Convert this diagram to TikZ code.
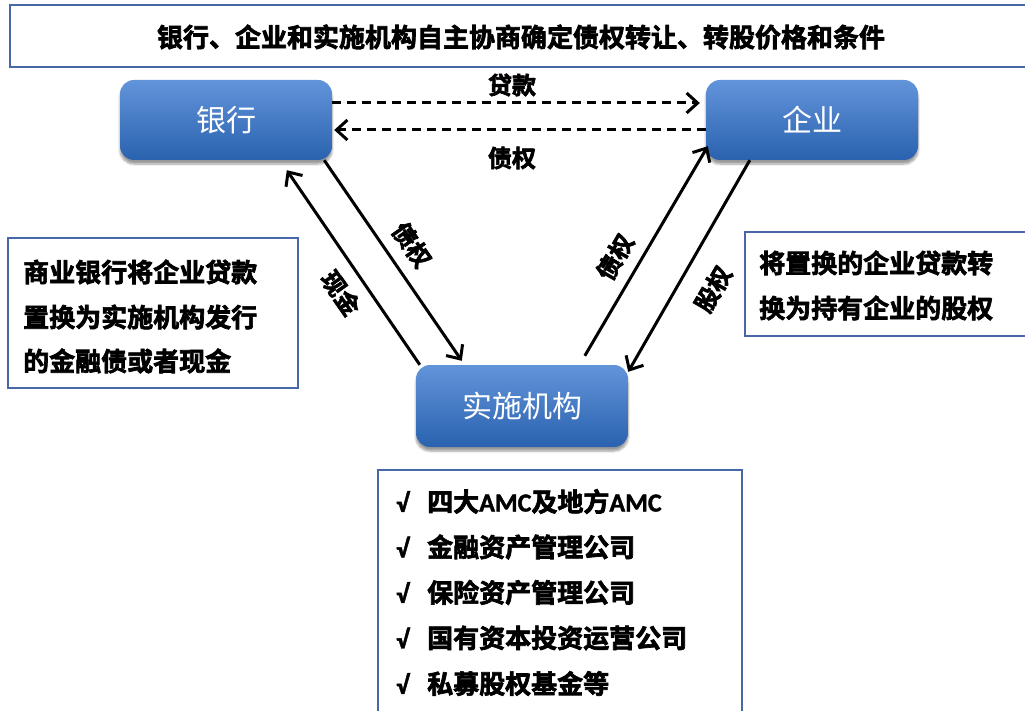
\documentclass[tikz,border=0pt]{standalone}
\usepackage{fontspec}
\setmainfont{Noto Sans CJK SC}
\newfontfamily\bcjk{Noto Sans CJK SC Bold}[FakeBold=2.6]
\newfontfamily\lat{Carlito}[BoldFeatures={FakeBold=1.5}]
\usetikzlibrary{arrows.meta,shadows.blur}
\definecolor{boxline}{RGB}{70,105,165}
\definecolor{btop}{RGB}{98,148,218}
\definecolor{bbot}{RGB}{42,98,175}
\tikzset{
  infobox/.style={draw=boxline,line width=1.4pt,fill=white},
  bluenode/.style={rounded corners=14pt,minimum width=212pt,minimum height=80pt,
    top color=btop,bottom color=bbot,draw=none,text=white,
    font=\fontsize{30pt}{34pt}\selectfont,
    blur shadow={shadow xshift=0pt,shadow yshift=-4pt,shadow blur steps=6,shadow opacity=40}},
  arr/.style={line width=3pt,-{Straight Barb[length=11pt,width=20pt,line width=3pt]}},
  darr/.style={arr,dash pattern=on 9pt off 6pt},
  lbl/.style={font=\bcjk\fontsize{24pt}{28pt}\selectfont,inner sep=0pt},
  txt/.style={font=\bcjk\fontsize{26pt}{30pt}\selectfont,inner sep=0pt,anchor=west},
}
\begin{document}
\begin{tikzpicture}[x=1pt,y=-1pt]
\useasboundingbox (0,0) rectangle (1025,711);
\begin{scope}
\clip (0,0) rectangle (1025,711);
% top box
\draw[infobox] (10,5) rectangle (1040,67);
\node[font=\bcjk\fontsize{26pt}{30pt}\selectfont] (title) at (521,37) {银行、企业和实施机构自主协商确定债权转让、转股价格和条件};
% left box
\draw[infobox] (8,238) rectangle (298,388);
\node[txt] (l1) at (23,272) {商业银行将企业贷款};
\node[txt] (l2) at (23,317) {置换为实施机构发行};
\node[txt] (l3) at (23,361) {的金融债或者现金};
% right box
\draw[infobox] (745,232) rectangle (1040,336);
\node[txt] (r1) at (759,263) {将置换的企业贷款转};
\node[txt] (r2) at (759,308) {换为持有企业的股权};
% bottom box
\draw[infobox] (378,470) rectangle (742,730);
\foreach \t [count=\i] in {四大{\lat\bfseries AMC}及地方{\lat\bfseries AMC},金融资产管理公司,保险资产管理公司,国有资本投资运营公司,私募股权基金等}{
  \node[txt] (c\i) at (396,{456+45.5*\i}) {\lat\bfseries √};
  \node[txt] (b\i) at (427,{456+45.5*\i}) {\t};
}
\end{scope}
% blue nodes
\node[bluenode] (bank) at (226,120) {银行};
\node[bluenode] (ent) at (812,120) {企业};
\node[bluenode,minimum height=82pt] (inst) at (522,406) {实施机构};
% dashed arrows
\draw[darr] ([yshift=17pt]bank.east) -- ([xshift=-6pt,yshift=17pt]ent.west);
\draw[darr] ([yshift=-10pt]ent.west) -- ([xshift=2pt,yshift=-10pt]bank.east);
\node[lbl] (loan) at (512,85) {贷款};
\node[lbl] (debt0) at (512,158) {债权};
% left diagonal arrows
\draw[arr] ([xshift=-8pt]bank.south east) -- ([xshift=46pt,yshift=4pt]inst.north west);
\draw[arr] ([xshift=4pt]inst.north west) -- ([xshift=167pt,yshift=-10pt]bank.south west);
\node[lbl,rotate=-55] (debt1) at (412,245) {债权};
\node[lbl,rotate=-55] (cash) at (341,293) {现金};
% right diagonal arrows
\draw[arr] ([xshift=169pt,yshift=9pt]inst.north west) -- ([xshift=2pt,yshift=14pt]ent.south west);
\draw[arr] ([xshift=44pt]ent.south west) -- ([yshift=-7pt]inst.north east);
\node[lbl,rotate=60] (debt2) at (615,257) {债权};
\node[lbl,rotate=60] (equity) at (713,289) {股权};
\end{tikzpicture}
\end{document}
